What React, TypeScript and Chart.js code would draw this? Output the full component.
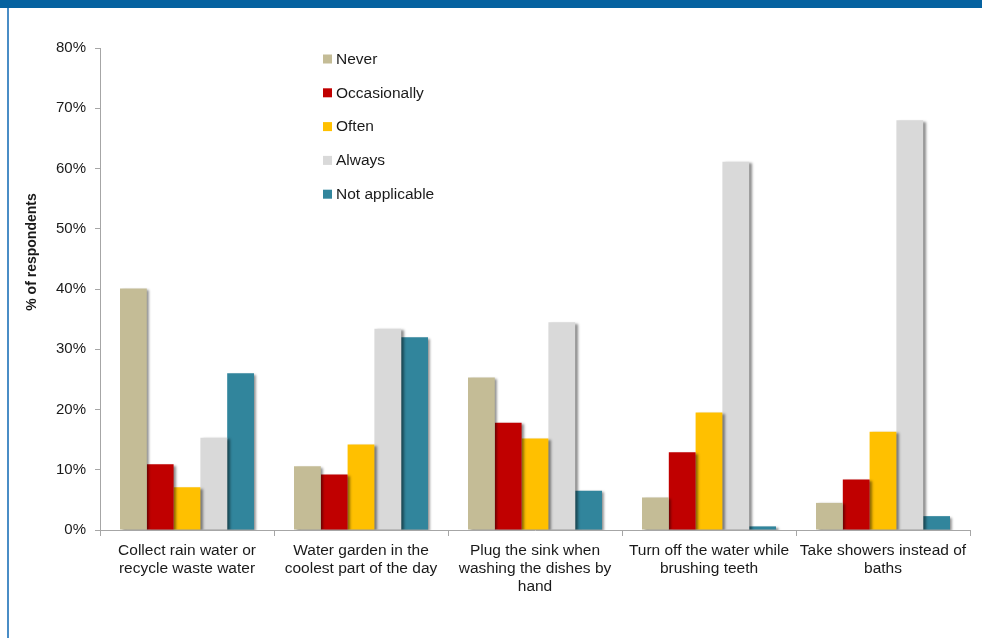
import React, { useEffect, useRef } from "react";
import { Chart, registerables } from "chart.js";

Chart.register(...registerables);

const categories: string[][] = [
  ["Collect rain water or", "recycle waste water"],
  ["Water garden in the", "coolest part of the day"],
  ["Plug the sink when", "washing the dishes by", "hand"],
  ["Turn off the water while", "brushing teeth"],
  ["Take showers instead of", "baths"],
];

const seriesNames = ["Never", "Occasionally", "Often", "Always", "Not applicable"];
const seriesColors = ["#C4BC96", "#C00000", "#FFC000", "#D9D9D9", "#31859C"];

const never = [40.1, 10.6, 25.3, 5.4, 4.5];
const occasionally = [10.9, 9.2, 17.8, 12.9, 8.4];
const often = [7.1, 14.2, 15.2, 19.5, 16.3];
const always = [15.3, 33.4, 34.5, 61.1, 68.0];
const notApplicable = [26.0, 32.0, 6.5, 0.6, 2.3];

const yTicks = [0, 10, 20, 30, 40, 50, 60, 70, 80];
const yTitle = "% of respondents";

const FONT = "'Liberation Sans', Arial, Helvetica, sans-serif";
const TEXT = "#1a1a1a";
const AXIS = "#A6A6A6";

export default function App() {
  const ref = useRef<HTMLCanvasElement | null>(null);

  useEffect(() => {
    if (!ref.current) return;
    const values = [never, occasionally, often, always, notApplicable];

    const shadowPlugin = {
      id: "barShadow",
      beforeDatasetsDraw(chart: any) {
        const ctx = chart.ctx;
        ctx.save();
        ctx.shadowColor = "rgba(0,0,0,0.45)";
        ctx.shadowOffsetX = 2.5;
        ctx.shadowOffsetY = 1.5;
        ctx.shadowBlur = 2.5;
      },
      afterDatasetsDraw(chart: any) {
        chart.ctx.restore();
      },
    };

    const overlayPlugin = {
      id: "overlay",
      afterDraw(chart: any) {
        const ctx = chart.ctx;
        ctx.save();
        // y-axis title
        ctx.translate(32, 252);
        ctx.rotate(-Math.PI / 2);
        ctx.font = `bold 14px ${FONT}`;
        ctx.fillStyle = TEXT;
        ctx.textAlign = "center";
        ctx.textBaseline = "middle";
        ctx.fillText(yTitle, 0, 0);
        ctx.restore();

        // legend
        ctx.save();
        ctx.font = `15.5px ${FONT}`;
        ctx.textBaseline = "middle";
        ctx.textAlign = "left";
        chart.data.datasets.forEach((ds: any, i: number) => {
          const cy = 59 + i * 33.8;
          ctx.fillStyle = ds.backgroundColor;
          ctx.fillRect(323, cy - 4.5, 9, 9);
          ctx.fillStyle = TEXT;
          ctx.fillText(ds.label, 336, cy + 0.5);
        });
        ctx.restore();
      },
    };

    const chart = new Chart(ref.current, {
      type: "bar",
      data: {
        labels: categories,
        datasets: seriesNames.map((name, i) => ({
          label: name,
          data: values[i],
          backgroundColor: seriesColors[i],
          borderWidth: 0,
          categoryPercentage: 0.77,
          barPercentage: 1.0,
        })),
      },
      options: {
        animation: false,
        responsive: false,
        maintainAspectRatio: false,
        devicePixelRatio: 1,
        layout: { padding: { top: 48, right: 12, bottom: 20, left: 0 } },
        plugins: {
          legend: { display: false },
          tooltip: { enabled: false },
          title: { display: false },
        },
        scales: {
          x: {
            grid: {
              display: true,
              drawOnChartArea: false,
              offset: true,
              tickLength: 6,
              color: AXIS,
            },
            border: { display: true, color: AXIS, width: 1 },
            ticks: {
              color: TEXT,
              font: { family: FONT, size: 15.5, lineHeight: 1.16 },
              maxRotation: 0,
              minRotation: 0,
              autoSkip: false,
              padding: 6,
            },
            afterFit(scale: any) {
              scale.height = 88;
            },
          },
          y: {
            min: 0,
            max: 80,
            afterBuildTicks(scale: any) {
              scale.ticks = yTicks.map((v) => ({ value: v }));
            },
            grid: {
              display: true,
              drawOnChartArea: false,
              tickLength: 5,
              color: AXIS,
            },
            border: { display: true, color: AXIS, width: 1 },
            ticks: {
              color: TEXT,
              font: { family: FONT, size: 15 },
              padding: 9,
              callback: (v: any) => `${v}%`,
            },
            afterFit(scale: any) {
              scale.width = 100;
            },
          },
        },
      },
      plugins: [shadowPlugin, overlayPlugin],
    });

    return () => chart.destroy();
  }, []);

  return (
    <div
      style={{
        position: "fixed",
        left: 0,
        top: 0,
        width: 982,
        height: 638,
        background: "#ffffff",
        overflow: "hidden",
      }}
    >
      <div
        style={{
          position: "absolute",
          left: 0,
          top: 0,
          width: 982,
          height: 8,
          background: "#0662A0",
        }}
      />
      <div
        style={{
          position: "absolute",
          left: 7,
          top: 8,
          width: 2,
          height: 630,
          background: "#4A8DC6",
        }}
      />
      <canvas
        ref={ref}
        width={982}
        height={638}
        style={{ position: "absolute", left: 0, top: 0, width: 982, height: 638 }}
      />
    </div>
  );
}
